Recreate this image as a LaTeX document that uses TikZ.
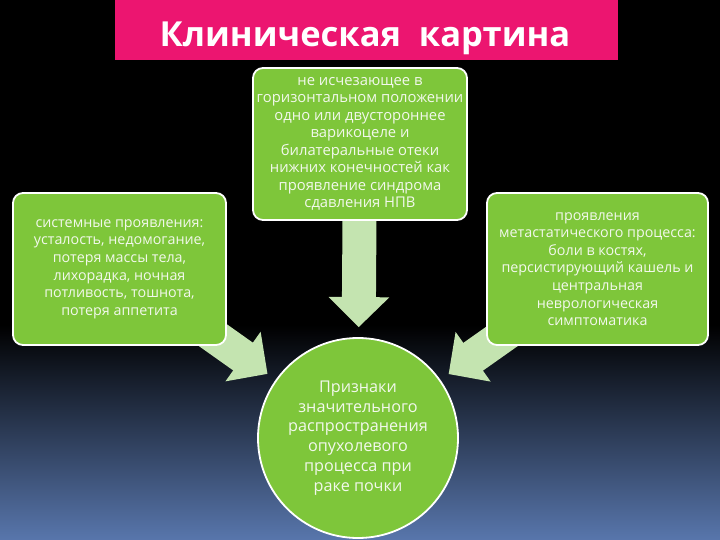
\documentclass[tikz,border=0pt]{standalone}
\usepackage{fontspec}
\setmainfont{Open Sans}
\usepackage{tikz}
\usetikzlibrary{arrows.meta, positioning, backgrounds}
\definecolor{titlecolor}{RGB}{236, 21, 112}
\definecolor{boxcolor}{RGB}{126, 198, 58}
\definecolor{arrowcolor}{RGB}{196, 228, 176}
\definecolor{textcolor}{RGB}{242, 248, 236}
\definecolor{bgblue}{RGB}{88, 118, 172}

\begin{document}
\begin{tikzpicture}[
    x=1pt, y=-1pt,
    titlebar/.style={rectangle, fill=titlecolor, minimum width=503pt, minimum height=60pt, inner sep=0pt},
    titletext/.style={text=white, inner sep=0pt, font=\fontsize{34.5}{40}\selectfont\bfseries},
    block/.style={rectangle, draw=white, line width=1.8pt, fill=boxcolor, rounded corners=10pt, minimum height=152pt, align=center, text=textcolor, inner sep=2pt, font=\fontsize{14.3}{17.6}\selectfont},
    centre/.style={circle, draw=white, line width=1.8pt, fill=boxcolor, minimum size=200pt, align=center, text=textcolor, inner sep=0pt, font=\fontsize{16.2}{19.8}\selectfont},
    bigarrow/.style={draw=arrowcolor, line width=34pt, -{Triangle[length=30pt, width=59pt]}, shorten >=10pt},
]

% ============ TITLE ============
\node[titlebar] (titlebar) at (366.5,30) {};
\node[titletext] (title) at (365,38) {Клиническая\ \ картина};

% ============ BOXES ============
% Top box
\node[block, minimum width=214pt, font=\fontsize{14.8}{17.5}\selectfont] (npv) at (360,144) {
    не исчезающее в\\
    горизонтальном положении\\
    одно или двустороннее\\
    варикоцеле и\\
    билатеральные отеки\\
    нижних конечностей как\\
    проявление синдрома\\
    сдавления НПВ
};

% Left box
\node[block, minimum width=213pt] (system) at (119.5,269) {
    системные проявления:\\
    усталость, недомогание,\\
    потеря массы тела,\\
    лихорадка, ночная\\
    потливость, тошнота,\\
    потеря аппетита
};

% Right box
\node[block, minimum width=221pt] (metastasis) at (597.5,269) {
    проявления\\
    метастатического процесса:\\
    боли в костях,\\
    персистирующий кашель и\\
    центральная\\
    неврологическая\\
    симптоматика
};

% Centre circle
\node[centre] (signs) at (358,438) {
    Признаки\\
    значительного\\
    распространения\\
    опухолевого\\
    процесса при\\
    раке почки
};

% ============ BACKGROUND + ARROWS ============
\begin{scope}[on background layer]
    \fill[black] (0,0) rectangle (720,325);
    \shade[top color=black, bottom color=bgblue] (0,325) rectangle (720,540);
    \draw[bigarrow] (npv.center) -- (signs);
    \draw[bigarrow] (system.center) -- (signs);
    \draw[bigarrow] (metastasis.center) -- (signs);
\end{scope}

\useasboundingbox (0,0) rectangle (720,540);
\end{tikzpicture}
\end{document}
